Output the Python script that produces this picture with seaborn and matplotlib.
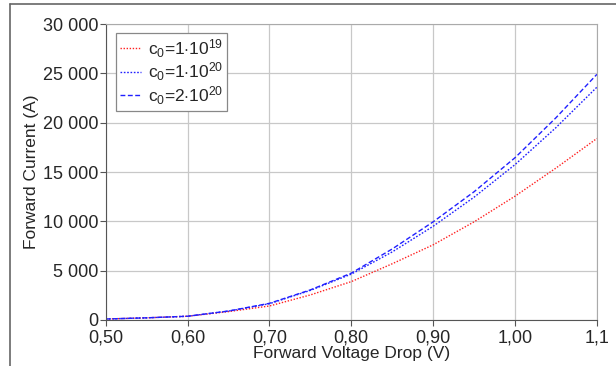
import pandas as pd
import matplotlib.pyplot as plt
from matplotlib.lines import Line2D
import seaborn as sns

voltage = [0.50, 0.55, 0.60, 0.65, 0.70, 0.75, 0.80, 0.85, 0.90, 0.95, 1.00, 1.05, 1.10]
i_1e19 = [100, 220, 380, 850, 1420, 2540, 3890, 5700, 7620, 9950, 12550, 15400, 18400]
i_1e20 = [100, 220, 380, 900, 1650, 3000, 4650, 6900, 9500, 12450, 15750, 19500, 23600]
i_2e20 = [100, 220, 380, 910, 1690, 3050, 4750, 7200, 9950, 13000, 16450, 20500, 24900]
labels = [r'c$_0$=1$\cdot$10$^{19}$', r'c$_0$=1$\cdot$10$^{20}$', r'c$_0$=2$\cdot$10$^{20}$']
xticks = [0.5, 0.6, 0.7, 0.8, 0.9, 1.0, 1.1]
xticklabels = ['0,50', '0,60', '0,70', '0,80', '0,90', '1,00', '1,1']
yticks = [0, 5000, 10000, 15000, 20000, 25000, 30000]
yticklabels = ['0', '5 000', '10 000', '15 000', '20 000', '25 000', '30 000']

df = pd.concat([
    pd.DataFrame({'V': voltage, 'I': vals, 'c0': lab})
    for vals, lab in zip([i_1e19, i_1e20, i_2e20], labels)
])

sns.set_style('white')
plt.rcParams['font.family'] = ['Liberation Sans', 'DejaVu Sans']
plt.rcParams['mathtext.fontset'] = 'custom'
plt.rcParams['mathtext.rm'] = 'Liberation Sans'
plt.rcParams['mathtext.it'] = 'Liberation Sans'

fig = plt.figure(figsize=(6.16, 3.66), dpi=100)
ax = fig.add_axes([0.1716, 0.1257, 0.7974, 0.8087])

palette = {labels[0]: '#ff2020', labels[1]: '#2020ff', labels[2]: '#2020ff'}
dashes = {labels[0]: (1, 1.2), labels[1]: (1.2, 1.2), labels[2]: (3.5, 1.8)}
sns.lineplot(data=df, x='V', y='I', hue='c0', style='c0', palette=palette,
             dashes=dashes, linewidth=1.0, ax=ax)

ax.set_xlim(0.5, 1.1)
ax.set_ylim(0, 30000)
ax.set_xticks(xticks)
ax.set_xticklabels(xticklabels)
ax.set_yticks(yticks)
ax.set_yticklabels(yticklabels)
ax.tick_params(labelsize=13, length=4, width=0.8, color='#555555', pad=1,
               bottom=True, left=True)
ax.tick_params(axis='x', pad=2.5)
ax.grid(True, color='#c8c8c8', linewidth=0.9)
for s in ['left', 'bottom']:
    ax.spines[s].set_color('#555555')
for s in ['top', 'right']:
    ax.spines[s].set_color('#aaaaaa')
ax.set_xlabel('Forward Voltage Drop (V)', fontsize=12.5, labelpad=0)
ax.set_ylabel('Forward Current (A)', fontsize=12.5, labelpad=3)

leg = ax.legend(loc='upper left', fontsize=12.5, handlelength=1.2,
                handletextpad=0.4, borderpad=0.25, labelspacing=0.05,
                borderaxespad=0, fancybox=False, framealpha=1,
                bbox_to_anchor=(0.02, 0.97))
leg.get_frame().set_edgecolor('#888888')
leg.get_frame().set_linewidth(0.9)

# outer frame lines at top and left
fig.add_artist(Line2D([10 / 616, 1], [1 - 4 / 366, 1 - 4 / 366], color='#666666', lw=1.2))
fig.add_artist(Line2D([10 / 616, 10 / 616], [0, 1 - 4 / 366], color='#666666', lw=1.2))

fig.savefig('out.png', dpi=100)
